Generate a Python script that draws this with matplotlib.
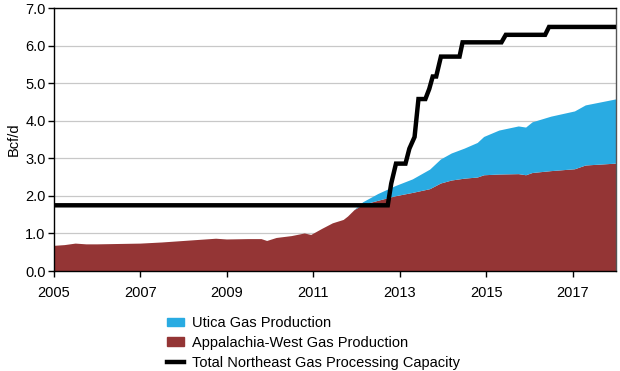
import matplotlib.pyplot as plt
import matplotlib.patches as mpatches
import matplotlib.lines as mlines
import numpy as np

plt.rcParams['font.family'] = ['Liberation Sans', 'DejaVu Sans']

# production dates (decimal years)
prod_dates = [2005.0, 2005.25, 2005.5, 2005.75, 2006.0, 2006.5, 2007.0, 2007.5,
              2008.0, 2008.5, 2008.75, 2009.0, 2009.5, 2009.8, 2009.93, 2010.15,
              2010.5, 2010.8, 2010.95, 2011.2, 2011.45, 2011.7, 2011.8, 2011.95,
              2012.15, 2012.5, 2012.9, 2013.3, 2013.7, 2013.95, 2014.2, 2014.5,
              2014.8, 2014.95, 2015.3, 2015.75, 2015.92, 2016.07, 2016.5, 2017.05,
              2017.3, 2018.0]
appalachia_west = [0.67, 0.69, 0.73, 0.71, 0.71, 0.72, 0.73, 0.76,
                   0.80, 0.84, 0.86, 0.84, 0.85, 0.85, 0.80, 0.88,
                   0.93, 1.00, 0.96, 1.12, 1.27, 1.36, 1.45, 1.62,
                   1.76, 1.87, 1.99, 2.08, 2.18, 2.33, 2.41, 2.46,
                   2.49, 2.55, 2.57, 2.58, 2.55, 2.61, 2.66, 2.71,
                   2.81, 2.86]
utica = [0.0, 0.0, 0.0, 0.0, 0.0, 0.0, 0.0, 0.0,
         0.0, 0.0, 0.0, 0.0, 0.0, 0.0, 0.0, 0.0,
         0.0, 0.0, 0.0, 0.0, 0.0, 0.0, 0.0, 0.0,
         0.07, 0.18, 0.27, 0.36, 0.52, 0.64, 0.72, 0.80,
         0.92, 1.02, 1.17, 1.27, 1.27, 1.35, 1.45, 1.54,
         1.60, 1.71]

# processing capacity
cap_dates = [2005.0, 2012.72, 2012.80, 2012.91, 2013.13, 2013.22, 2013.34, 2013.43,
             2013.59, 2013.68, 2013.76, 2013.84, 2013.95, 2014.38, 2014.45, 2015.35,
             2015.45, 2016.36, 2016.45, 2018.0]
capacity = [1.75, 1.75, 2.33, 2.86, 2.86, 3.26, 3.57, 4.58,
            4.58, 4.85, 5.18, 5.18, 5.71, 5.71, 6.09, 6.09,
            6.29, 6.29, 6.50, 6.50]

xticks = [2005, 2007, 2009, 2011, 2013, 2015, 2017]

red = '#943535'
blue = '#29abe2'

fig = plt.figure(figsize=(6.2, 3.71), dpi=100)
ax = fig.add_axes([0.0871, 0.2695, 0.9065, 0.7085])

ax.stackplot(prod_dates, appalachia_west, utica, colors=[red, blue],
             linewidth=0, zorder=2)
ax.plot(cap_dates, capacity, color='black', linewidth=3.2,
        solid_joinstyle='miter', zorder=3)

ax.set_xlim(2005, 2018)
ax.set_ylim(0, 7)
ax.set_xticks(xticks)
ax.set_xticklabels([str(t) for t in xticks])
ax.set_yticks(np.arange(0, 8))
ax.set_yticklabels(['%.1f' % v for v in np.arange(0, 8)])
ax.yaxis.grid(True, color='#c8c8c8', linewidth=0.9, zorder=0)
ax.set_axisbelow(True)
ax.tick_params(direction='out', length=4, width=1, labelsize=10.5,
               colors='black', pad=2)
ax.tick_params(axis='x', pad=7)
ax.set_ylabel('Bcf/d', fontsize=10.5, labelpad=3)

for s in ['left', 'bottom', 'top']:
    ax.spines[s].set_color('black')
    ax.spines[s].set_linewidth(1)
ax.spines['right'].set_color('#555555')
ax.spines['right'].set_linewidth(1)

handles = [mpatches.Patch(color=blue, label='Utica Gas Production'),
           mpatches.Patch(color=red, label='Appalachia-West Gas Production'),
           mlines.Line2D([], [], color='black', linewidth=3.2,
                         label='Total Northeast Gas Processing Capacity')]
fig.legend(handles=handles, loc='upper left', bbox_to_anchor=(0.269, 0.148),
           frameon=False, fontsize=10.5, handlelength=1.2, handleheight=0.55,
           handletextpad=0.5, labelspacing=0.4, borderaxespad=0, borderpad=0)

fig.savefig('out.png', dpi=100)
